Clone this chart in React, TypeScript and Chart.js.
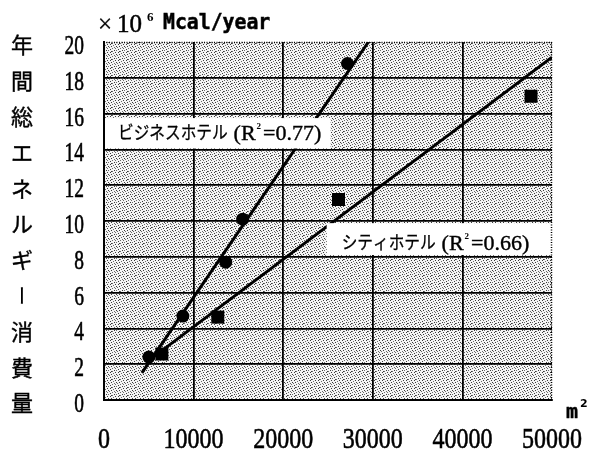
import React, { useEffect, useRef } from "react";
import { Chart, registerables } from "chart.js";

Chart.register(...registerables);

// Floor area (m²) vs annual energy use (×10^6 Mcal/year)
const businessArea = [5010, 8800, 13590, 15480, 27170];
const businessEnergy = [2.4, 4.69, 7.7, 10.1, 18.8];
const cityArea = [6460, 12700, 26170, 47660];
const cityEnergy = [2.57, 4.63, 11.2, 16.97];

// Regression line end points
const businessFitX = [4230, 29510];
const businessFitY = [1.51, 20];
const cityFitX = [5350, 50000];
const cityFitY = [2.34, 19.15];

const xTicks = [0, 10000, 20000, 30000, 40000, 50000];
const yTicks = [20, 18, 16, 14, 12, 10, 8, 6, 4, 2, 0];
const yTitleChars = ["年", "間", "総", "エ", "ネ", "ル", "ギ", "ー", "消", "費", "量"];

const businessLabel = "ビジネスホテル";
const businessR2 = "=0.77)";
const cityLabel = "シティホテル";
const cityR2 = "=0.66)";

const SERIF = '"Liberation Serif", serif';
const CJK = '"Noto Sans CJK JP", sans-serif';
const MONO = '"DejaVu Sans Mono", monospace';

const toPoints = (xs: number[], ys: number[]) => xs.map((x, i) => ({ x, y: ys[i] }));

function makeStipple(): CanvasPattern | string {
  const rows = [
    "x..x....",
    "......x.",
    "..x.x...",
    "x......x",
    "...x..x.",
    ".x......",
    "....x..x",
    "..x..x..",
  ];
  const tile = document.createElement("canvas");
  tile.width = 8;
  tile.height = 8;
  const t = tile.getContext("2d");
  if (!t) return "#d4d4d4";
  t.fillStyle = "#f4f4f4";
  t.fillRect(0, 0, 8, 8);
  rows.forEach((r, y) => {
    for (let x = 0; x < r.length; x++) {
      if (r[x] === "x") {
        t.fillStyle = (x + y) % 3 === 0 ? "#6a6a6a" : "#3a3a3a";
        t.fillRect(x, y, 1, 1);
      }
    }
  });
  const p = t.createPattern(tile, "repeat");
  return p || "#d4d4d4";
}

function drawText(
  ctx: CanvasRenderingContext2D,
  text: string,
  x: number,
  y: number,
  font: string,
  align: CanvasTextAlign = "left",
  baseline: CanvasTextBaseline = "alphabetic",
  sx = 1,
  heavy = 0
): number {
  ctx.save();
  ctx.font = font;
  ctx.textAlign = align;
  ctx.textBaseline = baseline;
  ctx.translate(x, y);
  ctx.scale(sx, 1);
  ctx.fillStyle = "#000";
  ctx.fillText(text, 0, 0);
  if (heavy > 0) {
    ctx.strokeStyle = "#000";
    ctx.lineWidth = heavy;
    ctx.strokeText(text, 0, 0);
  }
  const w = ctx.measureText(text).width * sx;
  ctx.restore();
  return w;
}

// Label like "ビジネスホテル (R² =0.77)" starting at x, vertical centre y
function drawFitLabel(ctx: CanvasRenderingContext2D, kana: string, r2: string, x: number, y: number) {
  let cx = x;
  cx += drawText(ctx, kana, cx, y, `18px ${CJK}`, "left", "middle", 0.87, 0.3);
  cx += 6;
  const base = y + 7.5;
  cx += drawText(ctx, "(", cx, base, `22px ${SERIF}`, "left", "alphabetic", 1, 0.4);
  cx += drawText(ctx, "R", cx, base, `22px ${SERIF}`, "left", "alphabetic", 1, 0.4);
  cx += drawText(ctx, "2", cx + 1, base - 11, `bold 9px ${SERIF}`) + 3;
  drawText(ctx, r2, cx, base, `22px ${SERIF}`, "left", "alphabetic", 1, 0.4);
}

const decorPlugin = {
  id: "decor",
  beforeDraw(chart: any) {
    const { ctx, chartArea: a } = chart;
    ctx.save();
    ctx.fillStyle = makeStipple();
    ctx.fillRect(a.left, a.top, a.right - a.left, a.bottom - a.top);
    ctx.restore();
  },
  afterDatasetsDraw(chart: any) {
    const { ctx, chartArea: a } = chart;
    const xs = chart.scales.x;
    const ys = chart.scales.y;

    // label boxes, anchored in data space
    ctx.save();
    ctx.fillStyle = "#fff";
    const b1l = xs.getPixelForValue(0) + 1;
    const b1r = xs.getPixelForValue(25300);
    const b1t = ys.getPixelForValue(15.75);
    const b1b = ys.getPixelForValue(14.05);
    ctx.fillRect(b1l, b1t, b1r - b1l, b1b - b1t);
    const b2l = xs.getPixelForValue(24850);
    const b2r = xs.getPixelForValue(50000);
    const b2t = ys.getPixelForValue(9.88);
    const b2b = ys.getPixelForValue(8.1);
    ctx.fillRect(b2l, b2t, b2r - b2l, b2b - b2t);
    ctx.restore();

    drawFitLabel(ctx, businessLabel, businessR2, b1l + 13, (b1t + b1b) / 2 - 1);
    drawFitLabel(ctx, cityLabel, cityR2, b2l + 15, (b2t + b2b) / 2 + 3);

    // dotted top and right edges
    ctx.save();
    ctx.strokeStyle = "#000";
    ctx.lineWidth = 1.5;
    ctx.setLineDash([1, 1.5]);
    ctx.beginPath();
    ctx.moveTo(a.left, a.top + 0.5);
    ctx.lineTo(a.right, a.top + 0.5);
    ctx.moveTo(a.right - 0.5, a.top);
    ctx.lineTo(a.right - 0.5, a.bottom);
    ctx.stroke();
    ctx.restore();
  },
  afterDraw(chart: any) {
    const { ctx } = chart;
    const xs = chart.scales.x;
    const ys = chart.scales.y;

    // y tick labels and vertical axis title
    yTicks.forEach((v, i) => {
      const py = ys.getPixelForValue(v) + 3;
      drawText(ctx, String(v), 84, py + 9, `27px ${SERIF}`, "right", "alphabetic", 0.72, 0.6);
      const ch = yTitleChars[i];
      if (ch === "ー") {
        ctx.save();
        ctx.translate(22, py);
        ctx.rotate(Math.PI / 2);
        drawText(ctx, ch, 0, 0, `21px ${CJK}`, "center", "middle");
        ctx.restore();
      } else {
        drawText(ctx, ch, 22, py, `22px ${CJK}`, "center", "middle", 1, 0.4);
      }
    });

    // x tick labels
    xTicks.forEach((v) => {
      drawText(ctx, String(v), xs.getPixelForValue(v), 448, `30px ${SERIF}`, "center", "alphabetic", 0.8, 0.6);
    });

    // unit captions
    drawText(ctx, "×", 98, 32, `25px ${SERIF}`, "left", "alphabetic", 1, 0.3);
    drawText(ctx, "10", 117, 32, `25px ${SERIF}`, "left", "alphabetic", 1, 0.5);
    drawText(ctx, "6", 147, 21, `bold 13px ${SERIF}`);
    drawText(ctx, "Mcal/year", 163, 29, `bold 22px ${MONO}`, "left", "alphabetic", 0.9, 0.5);
    drawText(ctx, "m", 566, 418, `bold 20px ${MONO}`, "left", "alphabetic", 1, 0.4);
    drawText(ctx, "2", 580, 407, `bold 11px "DejaVu Sans", sans-serif`);
  },
};

export default function App() {
  const ref = useRef<HTMLCanvasElement | null>(null);

  useEffect(() => {
    if (!ref.current) return;
    const chart = new Chart(ref.current, {
      type: "scatter",
      data: {
        datasets: [
          {
            type: "line",
            data: toPoints(businessFitX, businessFitY),
            borderColor: "#000",
            borderWidth: 3,
            pointRadius: 0,
            order: 2,
          },
          {
            type: "line",
            data: toPoints(cityFitX, cityFitY),
            borderColor: "#000",
            borderWidth: 3,
            pointRadius: 0,
            order: 2,
          },
          {
            data: toPoints(businessArea, businessEnergy),
            pointStyle: "circle",
            pointRadius: 6.5,
            backgroundColor: "#000",
            borderColor: "#000",
            borderWidth: 0,
            order: 1,
          },
          {
            data: toPoints(cityArea, cityEnergy),
            pointStyle: "rect",
            pointRadius: 9.2,
            backgroundColor: "#000",
            borderColor: "#000",
            borderWidth: 0,
            order: 0,
          },
        ],
      } as any,
      options: {
        animation: false,
        responsive: false,
        devicePixelRatio: 1,
        layout: { padding: { left: 104, top: 42, right: 45, bottom: 53 } },
        plugins: { legend: { display: false }, tooltip: { enabled: false } },
        scales: {
          x: {
            type: "linear",
            min: 0,
            max: 50000,
            ticks: { display: false, stepSize: 10000 },
            grid: {
              drawTicks: false,
              lineWidth: 1.8,
              color: (c: any) => (c.tick && c.tick.value === 50000 ? "rgba(0,0,0,0)" : "#000"),
            },
            border: { display: true, color: "#000", width: 2 },
            afterFit: (s: any) => {
              s.height = 0;
            },
          },
          y: {
            type: "linear",
            min: 0,
            max: 20,
            ticks: { display: false, stepSize: 2 },
            grid: {
              drawTicks: false,
              lineWidth: 1.8,
              color: (c: any) => (c.tick && c.tick.value === 20 ? "rgba(0,0,0,0)" : "#000"),
            },
            border: { display: true, color: "#000", width: 2 },
            afterFit: (s: any) => {
              s.width = 0;
            },
          },
        },
      } as any,
      plugins: [decorPlugin],
    });
    return () => chart.destroy();
  }, []);

  return (
    <div style={{ position: "fixed", left: 0, top: 0, width: 597, height: 453, background: "#fff" }}>
      <canvas ref={ref} width={597} height={453} style={{ display: "block" }} />
    </div>
  );
}
